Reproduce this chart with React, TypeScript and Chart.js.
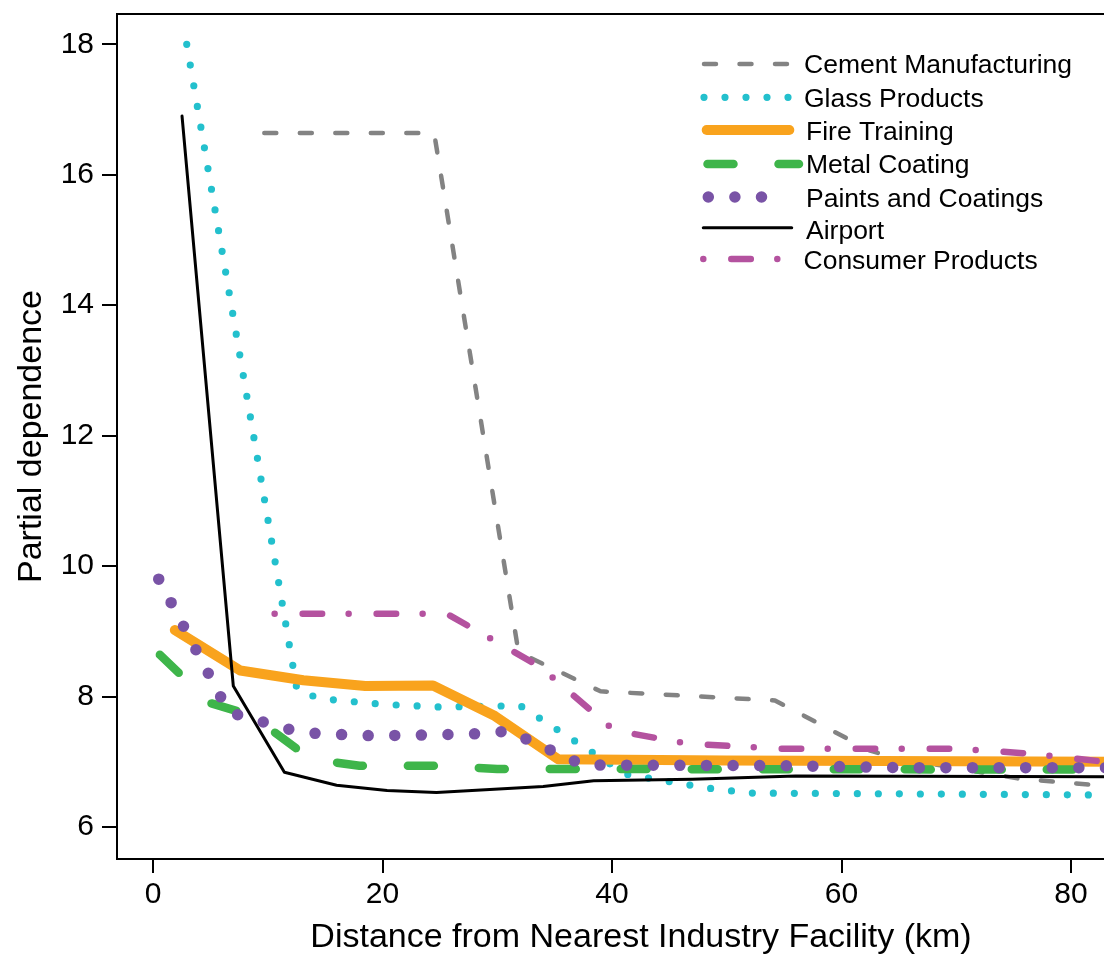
import React, { useEffect, useRef } from "react";
import { Chart, registerables } from "chart.js";

Chart.register(...registerables);

const FONT = "'Liberation Sans', Arial, Helvetica, sans-serif";

// ---------- data ----------
const seriesLabels = [
  "Cement Manufacturing",
  "Glass Products",
  "Fire Training",
  "Metal Coating",
  "Paints and Coatings",
  "Airport",
  "Consumer Products",
];

const cementX = [9.7, 24.5, 31.85, 39.0, 54.2, 62.5, 64.5, 75.5, 83.5];
const cementY = [16.64, 16.64, 8.68, 8.08, 7.94, 7.17, 7.07, 6.74, 6.62];

const glassX = [2.94, 12.55, 14.5, 20, 25, 32, 41.2, 44.5, 48.2, 52, 62.7, 83.5];
const glassY = [18.0, 8.1, 7.97, 7.88, 7.84, 7.86, 6.81, 6.71, 6.6, 6.52, 6.51, 6.49];

const fireX = [1.9, 7.6, 13.1, 18.5, 24.4, 29.8, 35.3, 50, 83.5];
const fireY = [9.02, 8.4, 8.25, 8.16, 8.17, 7.7, 7.04, 7.02, 7.0];

const metalX = [0.6, 5.0, 8.6, 13.75, 18, 25, 30, 83.5];
const metalY = [8.64, 7.9, 7.71, 7.04, 6.94, 6.94, 6.89, 6.88];

const paintsX = [0.5, 6.6, 12.4, 14.4, 19, 24, 28.5, 31.0, 37.5, 55, 65, 83.5];
const paintsY = [9.8, 7.76, 7.47, 7.43, 7.4, 7.41, 7.43, 7.47, 6.95, 6.94, 6.91, 6.91];

const airportX = [2.53, 7.0, 11.45, 16.0, 20.4, 24.7, 34, 38.4, 47, 56, 83.5];
const airportY = [16.9, 8.16, 6.84, 6.64, 6.56, 6.53, 6.62, 6.71, 6.73, 6.78, 6.77];

const consumerX = [10.6, 25.6, 33.7, 40.2, 46.5, 54.5, 70.2, 76, 83.5];
const consumerY = [9.27, 9.27, 8.46, 7.48, 7.28, 7.2, 7.2, 7.13, 6.99];

const xTickValues = [0, 20, 40, 60, 80];
const yTickValues = [6, 8, 10, 12, 14, 16, 18];

const xAxisTitle = "Distance from Nearest Industry Facility (km)";
const yAxisTitle = "Partial dependence";

// ---------- styles ----------
const seriesStyles = [
  { color: "#838383", width: 4.5, dash: [12, 23.5] },
  { color: "#23C0CD", width: 7.2, dash: [0, 21] },
  { color: "#F9A31D", width: 10, dash: [] as number[] },
  { color: "#3EB54A", width: 8.5, dash: [26, 45] },
  { color: "#7953A6", width: 11.5, dash: [0, 26.6] },
  { color: "#000000", width: 3, dash: [] as number[] },
  { color: "#B4529F", width: 6.5, dash: [0, 28, 19.5, 26.5] },
];

const legendLayout = [
  { x0: 704, x1: 790, y: 64, tx: 804, ty: 73.3 },
  { x0: 704, x1: 789, y: 97.3, tx: 804, ty: 106.7 },
  { x0: 706.7, x1: 789.3, y: 130, tx: 806, ty: 140 },
  { x0: 707.5, x1: 799, y: 164, tx: 806, ty: 173.3 },
  { x0: 708.3, x1: 785, y: 197, tx: 806, ty: 206.7 },
  { x0: 703.3, x1: 791.7, y: 227.7, tx: 806, ty: 239 },
  { x0: 703.3, x1: 778, y: 259, tx: 803.5, ty: 269.3 },
];

const seriesX = [cementX, glassX, fireX, metalX, paintsX, airportX, consumerX];
const seriesY = [cementY, glassY, fireY, metalY, paintsY, airportY, consumerY];

const zip = (xs: number[], ys: number[]) => xs.map((x, i) => ({ x, y: ys[i] }));

const legendPlugin = {
  id: "customLegend",
  afterDraw(chart: any) {
    const ctx = chart.ctx as CanvasRenderingContext2D;
    ctx.save();
    seriesLabels.forEach((label, i) => {
      const st = seriesStyles[i];
      const L = legendLayout[i];
      ctx.beginPath();
      ctx.strokeStyle = st.color;
      ctx.lineWidth = st.width;
      ctx.lineCap = "round";
      ctx.setLineDash(st.dash);
      ctx.lineDashOffset = 0;
      ctx.moveTo(L.x0, L.y);
      ctx.lineTo(L.x1, L.y);
      ctx.stroke();
      ctx.setLineDash([]);
      ctx.fillStyle = "#000";
      ctx.font = `26.5px ${FONT}`;
      ctx.textAlign = "left";
      ctx.textBaseline = "alphabetic";
      ctx.fillText(label, L.tx, L.ty);
    });
    ctx.restore();
  },
};

const boxPlugin = {
  id: "plotBox",
  afterDatasetsDraw(chart: any) {
    const { left, top, right, bottom } = chart.chartArea;
    const ctx = chart.ctx as CanvasRenderingContext2D;
    ctx.save();
    ctx.strokeStyle = "#000";
    ctx.lineWidth = 2;
    ctx.setLineDash([]);
    ctx.strokeRect(left, top, right - left, bottom - top);
    ctx.restore();
  },
};

export default function App() {
  const ref = useRef<HTMLCanvasElement>(null);

  useEffect(() => {
    if (!ref.current) return;
    const datasets = seriesLabels.map((label, i) => ({
      label,
      data: zip(seriesX[i], seriesY[i]),
      borderColor: seriesStyles[i].color,
      backgroundColor: seriesStyles[i].color,
      borderWidth: seriesStyles[i].width,
      borderDash: seriesStyles[i].dash,
      borderCapStyle: "round" as const,
      borderJoinStyle: "round" as const,
      pointRadius: 0,
      pointHoverRadius: 0,
      tension: 0,
      fill: false,
      order: seriesLabels.length - 1 - i,
    }));

    const chart = new Chart(ref.current, {
      type: "line",
      data: { datasets },
      options: {
        animation: false,
        responsive: false,
        devicePixelRatio: 1,
        events: [],
        layout: { padding: { top: 14, left: 0, right: 0, bottom: 0 } },
        plugins: {
          legend: { display: false },
          tooltip: { enabled: false },
          title: { display: false },
        },
        scales: {
          x: {
            type: "linear",
            min: -3.137,
            max: 88.19,
            afterFit: (s: any) => {
              s.height = 98;
              s.paddingLeft = 0;
              s.paddingRight = 0;
              s.paddingTop = 0;
              s.paddingBottom = 0;
            },
            afterBuildTicks: (s: any) => {
              s.ticks = xTickValues.map((v) => ({ value: v }));
            },
            grid: {
              drawOnChartArea: false,
              drawTicks: true,
              tickLength: 14,
              color: "#000",
              lineWidth: 2,
            },
            border: { display: false },
            ticks: {
              color: "#000",
              font: { size: 30, family: FONT },
              padding: 4,
              maxRotation: 0,
              autoSkip: false,
              callback: (v: any) => String(v),
            },
            title: {
              display: true,
              text: xAxisTitle,
              color: "#000",
              font: { size: 34, family: FONT, lineHeight: 1 },
              padding: { top: 0, bottom: 2.5 },
            },
          },
          y: {
            type: "linear",
            min: 5.509,
            max: 18.465,
            afterFit: (s: any) => {
              s.width = 117;
              s.paddingLeft = 0;
              s.paddingRight = 0;
              s.paddingTop = 0;
              s.paddingBottom = 0;
            },
            afterBuildTicks: (s: any) => {
              s.ticks = yTickValues.map((v) => ({ value: v }));
            },
            grid: {
              drawOnChartArea: false,
              drawTicks: true,
              tickLength: 15,
              color: "#000",
              lineWidth: 2,
            },
            border: { display: false },
            ticks: {
              color: "#000",
              font: { size: 30, family: FONT },
              padding: 8,
              autoSkip: false,
              callback: (v: any) => String(v),
            },
            title: {
              display: true,
              text: yAxisTitle,
              color: "#000",
              font: { size: 34, family: FONT, lineHeight: 1 },
              padding: { top: 15, bottom: 0 },
            },
          },
        },
      },
      plugins: [boxPlugin, legendPlugin],
    } as any);

    return () => chart.destroy();
  }, []);

  return (
    <div
      style={{
        position: "absolute",
        left: 0,
        top: 0,
        width: 1104,
        height: 957,
        overflow: "hidden",
        background: "#fff",
      }}
    >
      <canvas
        ref={ref}
        width={1165}
        height={957}
        style={{ display: "block", width: 1165, height: 957 }}
      />
    </div>
  );
}
